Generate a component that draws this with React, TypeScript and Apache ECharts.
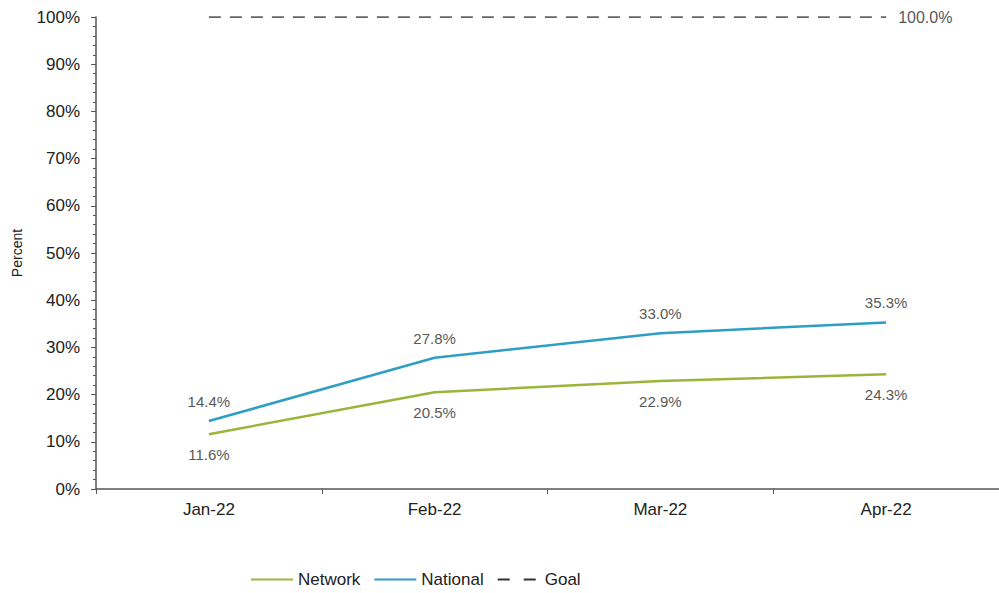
import React, { useEffect, useRef } from "react";
import * as echarts from "echarts";

const categories = ["Jan-22", "Feb-22", "Mar-22", "Apr-22"];
const networkValues = [11.6, 20.5, 22.9, 24.3];
const nationalValues = [14.4, 27.8, 33.0, 35.3];
const goalValues = [100, 100, 100, 100];
const yTicks = [0, 10, 20, 30, 40, 50, 60, 70, 80, 90, 100];

const FONT = "'Liberation Sans', Arial, sans-serif";
const TEXT = "#595959";

export default function App() {
  const ref = useRef<HTMLDivElement>(null);
  useEffect(() => {
    if (!ref.current) return;
    const chart = echarts.init(ref.current, undefined, { renderer: "svg" });
    const pct = (p: any) => `${Number(p.value).toFixed(1)}%`;
    chart.setOption({
      animation: false,
      backgroundColor: "#ffffff",
      textStyle: { fontFamily: FONT },
      grid: { left: 96, top: 17, width: 908, height: 472, containLabel: false },
      legend: {
        bottom: 5,
        left: 250,
        padding: 0,
        itemWidth: 42,
        itemHeight: 10,
        itemGap: 13,
        itemStyle: { opacity: 0 },
        textStyle: { fontFamily: FONT, fontSize: 17, color: "#222" },
        data: [
          { name: "Network" },
          { name: "National" },
          { name: "Goal", lineStyle: { type: [12, 14] } },
        ],
      },
      xAxis: {
        type: "category",
        data: categories,
        boundaryGap: true,
        axisLine: { lineStyle: { color: "#555", width: 1.5 } },
        axisTick: { show: true, length: 5, lineStyle: { color: "#555" } },
        axisLabel: { fontSize: 17, color: "#222", margin: 12, fontFamily: FONT },
      },
      yAxis: {
        type: "value",
        min: yTicks[0],
        max: yTicks[yTicks.length - 1],
        interval: 10,
        name: "Percent",
        nameLocation: "middle",
        nameGap: 72,
        nameRotate: 90,
        nameTextStyle: { fontSize: 14, color: "#222", fontFamily: FONT },
        axisLine: { show: true, lineStyle: { color: "#555", width: 1.5 } },
        axisTick: { show: true, length: 5, lineStyle: { color: "#555" } },
        minorTick: { show: true, splitNumber: 5, length: 3, lineStyle: { color: "#555" } },
        splitLine: { show: false },
        axisLabel: {
          fontSize: 17,
          color: "#222",
          margin: 16,
          fontFamily: FONT,
          formatter: (v: number) => `${v}%`,
        },
      },
      series: [
        {
          name: "Network",
          type: "line",
          data: networkValues,
          symbol: "circle",
          symbolSize: 0,
          showSymbol: true,
          lineStyle: { color: "#9BB53A", width: 2.5 },
          itemStyle: { color: "#9BB53A" },
          label: {
            show: true,
            position: "bottom",
            distance: 13,
            fontSize: 15,
            color: TEXT,
            fontFamily: FONT,
            formatter: pct,
          },
        },
        {
          name: "National",
          type: "line",
          data: nationalValues,
          symbol: "circle",
          symbolSize: 0,
          showSymbol: true,
          lineStyle: { color: "#2E9FC4", width: 2.5 },
          itemStyle: { color: "#2E9FC4" },
          label: {
            show: true,
            position: "top",
            distance: 12,
            fontSize: 15,
            color: TEXT,
            fontFamily: FONT,
            formatter: pct,
          },
        },
        {
          name: "Goal",
          type: "line",
          data: goalValues.map((v, i) => ({
            value: v,
            label: { show: i === goalValues.length - 1 },
          })),
          symbol: "circle",
          symbolSize: 0,
          showSymbol: true,
          lineStyle: { color: "#333", width: 1.5, type: [12, 9] },
          itemStyle: { color: "#333" },
          label: {
            show: false,
            position: "right",
            distance: 12,
            fontSize: 16,
            color: TEXT,
            fontFamily: FONT,
            formatter: pct,
          },
        },
      ],
    });
    return () => chart.dispose();
  }, []);
  return (
    <div
      ref={ref}
      style={{ position: "absolute", left: 0, top: 0, width: 999, height: 593, overflow: "hidden" }}
    />
  );
}
